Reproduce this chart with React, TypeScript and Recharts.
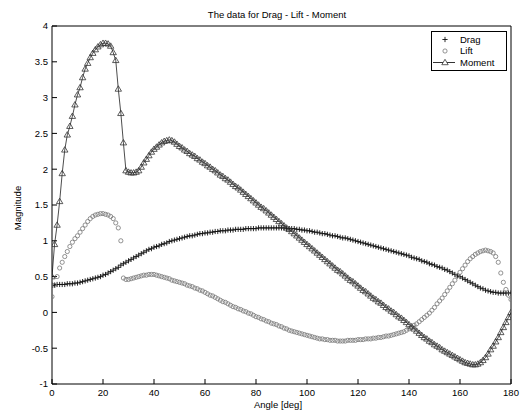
import { LineChart, Line, XAxis, YAxis, Legend } from 'recharts';

// sample angles, one per degree
const ANGLES: number[] = Array.from({ length: 181 }, (_, i) => i);

const DRAG = [
  0.38, 0.38, 0.39, 0.39, 0.39, 0.39, 0.4, 0.4, 0.4, 0.41,
  0.41, 0.42, 0.43, 0.44, 0.45, 0.46, 0.47, 0.48, 0.49, 0.5,
  0.52, 0.53, 0.55, 0.57, 0.59, 0.61, 0.63, 0.66, 0.68, 0.7,
  0.72, 0.74, 0.76, 0.78, 0.8, 0.82, 0.84, 0.86, 0.88, 0.89,
  0.91, 0.92, 0.93, 0.95, 0.96, 0.97, 0.99, 1.0, 1.01, 1.02,
  1.03, 1.04, 1.05, 1.06, 1.07, 1.07, 1.08, 1.09, 1.1, 1.1,
  1.11, 1.11, 1.12, 1.12, 1.13, 1.13, 1.14, 1.14, 1.14, 1.15,
  1.15, 1.15, 1.16, 1.16, 1.16, 1.16, 1.17, 1.17, 1.17, 1.17,
  1.17, 1.18, 1.18, 1.18, 1.18, 1.18, 1.18, 1.18, 1.18, 1.18,
  1.18, 1.18, 1.17, 1.17, 1.17, 1.17, 1.16, 1.16, 1.15, 1.15,
  1.14, 1.14, 1.13, 1.12, 1.12, 1.11, 1.1, 1.1, 1.09, 1.08,
  1.07, 1.07, 1.06, 1.05, 1.04, 1.04, 1.03, 1.02, 1.01, 1.0,
  0.99, 0.98, 0.97, 0.96, 0.95, 0.94, 0.93, 0.92, 0.91, 0.9,
  0.89, 0.88, 0.87, 0.86, 0.85, 0.84, 0.83, 0.82, 0.81, 0.8,
  0.79, 0.77, 0.76, 0.75, 0.74, 0.72, 0.71, 0.7, 0.68, 0.67,
  0.66, 0.64, 0.63, 0.62, 0.6, 0.59, 0.57, 0.55, 0.53, 0.51,
  0.5, 0.48, 0.46, 0.44, 0.42, 0.4, 0.38, 0.36, 0.34, 0.33,
  0.31, 0.3, 0.29, 0.28, 0.28, 0.27, 0.27, 0.27, 0.27, 0.27, 0.27,
];

const LIFT = [
  0.22, 0.38, 0.5, 0.62, 0.7, 0.78, 0.85, 0.92, 0.98, 1.03,
  1.07, 1.12, 1.17, 1.22, 1.27, 1.31, 1.34, 1.36, 1.37, 1.38,
  1.38, 1.37, 1.36, 1.34, 1.31, 1.25, 1.18, 1.0, 0.48, 0.46,
  0.46, 0.47, 0.48, 0.49, 0.5, 0.51, 0.52, 0.52, 0.53, 0.53,
  0.53, 0.52, 0.51, 0.5, 0.49, 0.48, 0.47, 0.45, 0.44, 0.43,
  0.42, 0.41, 0.4, 0.38, 0.37, 0.36, 0.34, 0.33, 0.31, 0.3,
  0.28, 0.26, 0.24, 0.23, 0.21, 0.19, 0.17, 0.15, 0.14, 0.12,
  0.1, 0.08, 0.07, 0.05, 0.04, 0.02, 0.01, -0.01, -0.02, -0.04,
  -0.06, -0.07, -0.09, -0.1, -0.12, -0.13, -0.15, -0.16, -0.17, -0.19,
  -0.2, -0.22, -0.23, -0.25, -0.26, -0.27, -0.28, -0.29, -0.3, -0.31,
  -0.32, -0.33, -0.34, -0.35, -0.36, -0.37, -0.37, -0.38, -0.38, -0.39,
  -0.39, -0.39, -0.4, -0.4, -0.4, -0.4, -0.39, -0.39, -0.39, -0.39,
  -0.38, -0.38, -0.38, -0.37, -0.37, -0.37, -0.36, -0.36, -0.35, -0.35,
  -0.34, -0.33, -0.33, -0.32, -0.31, -0.3, -0.29, -0.28, -0.27, -0.25,
  -0.23, -0.21, -0.18, -0.16, -0.13, -0.1, -0.07, -0.04, -0.01, 0.03,
  0.07, 0.12, 0.16, 0.2, 0.25, 0.3, 0.35, 0.4, 0.45, 0.51,
  0.56, 0.61, 0.66, 0.71, 0.75, 0.78, 0.81, 0.83, 0.85, 0.86,
  0.87, 0.86, 0.85, 0.83, 0.78, 0.7, 0.55, 0.42, 0.32, 0.24, 0.18,
];

const MOMENT = [
  0.5, 0.95, 1.22, 1.55, 1.94, 2.27, 2.48, 2.6, 2.74, 2.9,
  3.04, 3.14, 3.28, 3.4, 3.48, 3.56, 3.62, 3.67, 3.71, 3.74,
  3.76, 3.76, 3.75, 3.72, 3.63, 3.52, 3.12, 2.78, 2.37, 1.98,
  1.96, 1.95, 1.95, 1.96, 1.98, 2.03, 2.09, 2.14, 2.19, 2.24,
  2.28, 2.31, 2.34, 2.37, 2.39, 2.4, 2.41, 2.4, 2.38, 2.35,
  2.32, 2.3, 2.27, 2.25, 2.22, 2.2, 2.18, 2.15, 2.13, 2.1,
  2.08, 2.05, 2.03, 2.0, 1.98, 1.95, 1.92, 1.9, 1.87, 1.85,
  1.82, 1.79, 1.76, 1.74, 1.71, 1.68, 1.65, 1.62, 1.59, 1.56,
  1.53, 1.5, 1.47, 1.45, 1.42, 1.39, 1.36, 1.33, 1.3, 1.27,
  1.24, 1.21, 1.18, 1.16, 1.13, 1.1, 1.07, 1.04, 1.01, 0.98,
  0.95, 0.92, 0.89, 0.86, 0.83, 0.8, 0.77, 0.74, 0.71, 0.68,
  0.65, 0.62, 0.59, 0.57, 0.54, 0.51, 0.48, 0.45, 0.43, 0.4,
  0.37, 0.34, 0.31, 0.29, 0.26, 0.23, 0.2, 0.18, 0.15, 0.13,
  0.1, 0.07, 0.05, 0.02, 0.0, -0.03, -0.06, -0.08, -0.11, -0.14,
  -0.17, -0.2, -0.23, -0.26, -0.29, -0.32, -0.35, -0.37, -0.4, -0.42,
  -0.45, -0.47, -0.49, -0.52, -0.54, -0.56, -0.58, -0.6, -0.62, -0.64,
  -0.66, -0.68, -0.7, -0.71, -0.72, -0.73, -0.73, -0.72, -0.7, -0.67,
  -0.63, -0.58, -0.52, -0.47, -0.41, -0.35, -0.28, -0.21, -0.14, -0.07, 0.0,
];

const X_TICKS = [0, 20, 40, 60, 80, 100, 120, 140, 160, 180];
const Y_TICKS = [-1, -0.5, 0, 0.5, 1, 1.5, 2, 2.5, 3, 3.5, 4];

const rows = ANGLES.map((angle, i) => ({
  angle,
  drag: DRAG[i],
  lift: LIFT[i],
  moment: MOMENT[i],
}));

const FONT = '"Liberation Sans", Arial, Helvetica, sans-serif';
const tickStyle = { fontSize: 9.5, fill: '#000', fontFamily: FONT };

const plusPath = (x: number, y: number) =>
  `M${x - 2.6},${y}h5.2M${x},${y - 2.6}v5.2`;
const trianglePath = (x: number, y: number) =>
  `M${x},${y - 3.2}L${x + 3.2},${y + 2.2}L${x - 3.2},${y + 2.2}Z`;

const PlusDot = (props: any) => {
  const { cx, cy, index } = props;
  if (cx == null || cy == null) return null;
  return (
    <path key={`drag-${index}`} d={plusPath(cx, cy)} stroke="#111" strokeWidth={0.9} fill="none" />
  );
};

const CircleDot = (props: any) => {
  const { cx, cy, index } = props;
  if (cx == null || cy == null) return null;
  return (
    <circle key={`lift-${index}`} cx={cx} cy={cy} r={2.1} stroke="#777" strokeWidth={0.8} fill="none" />
  );
};

const TriangleDot = (props: any) => {
  const { cx, cy, index } = props;
  if (cx == null || cy == null) return null;
  return (
    <path key={`moment-${index}`} d={trianglePath(cx, cy)} stroke="#333" strokeWidth={0.8} fill="none" />
  );
};

const LegendBox = () => (
  <svg width={76} height={40} style={{ display: 'block' }}>
    <rect x={0.5} y={0.5} width={75} height={39} fill="#fff" stroke="#000" strokeWidth={1} />
    <path d={plusPath(14, 8.5)} stroke="#111" strokeWidth={0.9} fill="none" />
    <circle cx={14} cy={20} r={2.1} stroke="#777" strokeWidth={0.8} fill="none" />
    <line x1={2} y1={31.5} x2={24} y2={31.5} stroke="#000" strokeWidth={0.8} />
    <path d={trianglePath(14, 31.5)} stroke="#333" strokeWidth={0.8} fill="#fff" />
    <g fontFamily={FONT} fontSize={9.5} fill="#000">
      <text x={29} y={11.8}>Drag</text>
      <text x={29} y={23.4}>Lift</text>
      <text x={29} y={35}>Moment</text>
    </g>
  </svg>
);

export default function App() {
  return (
    <div
      style={{
        position: 'absolute',
        left: 0,
        top: 0,
        width: 525,
        height: 410,
        background: '#fff',
        fontFamily: FONT,
      }}
    >
      <LineChart
        width={525}
        height={410}
        data={rows}
        margin={{ top: 25, right: 13, bottom: 25, left: 51 }}
      >
        <XAxis
          dataKey="angle"
          type="number"
          domain={[0, 180]}
          ticks={X_TICKS}
          height={1}
          tickSize={-5}
          tickMargin={10}
          tick={tickStyle}
          stroke="#000"
          allowDataOverflow
        />
        <XAxis
          xAxisId="top"
          orientation="top"
          dataKey="angle"
          type="number"
          domain={[0, 180]}
          ticks={X_TICKS}
          height={1}
          tickSize={-5}
          tick={false}
          stroke="#000"
          allowDataOverflow
        />
        <YAxis
          type="number"
          domain={[-1, 4]}
          ticks={Y_TICKS}
          width={1}
          tickSize={-5}
          tickMargin={9}
          tick={tickStyle}
          stroke="#000"
          allowDataOverflow
        />
        <YAxis
          yAxisId="right"
          orientation="right"
          type="number"
          domain={[-1, 4]}
          ticks={Y_TICKS}
          width={1}
          tickSize={-5}
          tick={false}
          stroke="#000"
          allowDataOverflow
        />
        <Legend
          content={<LegendBox />}
          layout="vertical"
          align="center"
          verticalAlign="middle"
          wrapperStyle={{ position: 'absolute', top: 31, left: 431, width: 76, height: 40 }}
        />
        <Line
          dataKey="drag"
          name="Drag"
          type="linear"
          stroke="none"
          dot={PlusDot}
          activeDot={false}
          isAnimationActive={false}
        />
        <Line
          dataKey="lift"
          name="Lift"
          type="linear"
          stroke="none"
          dot={CircleDot}
          activeDot={false}
          isAnimationActive={false}
        />
        <Line
          dataKey="moment"
          name="Moment"
          type="linear"
          stroke="#000"
          strokeWidth={0.7}
          dot={TriangleDot}
          activeDot={false}
          isAnimationActive={false}
        />
      </LineChart>

      <div
        style={{
          position: 'absolute',
          left: 177,
          top: 9,
          width: 200,
          textAlign: 'center',
          fontSize: 9.5,
          lineHeight: '12px',
          color: '#000',
        }}
      >
        The data for Drag - Lift - Moment
      </div>
      <div
        style={{
          position: 'absolute',
          left: 228,
          top: 399,
          width: 100,
          textAlign: 'center',
          fontSize: 9.5,
          lineHeight: '12px',
          color: '#000',
        }}
      >
        Angle [deg]
      </div>
      <div
        style={{
          position: 'absolute',
          left: -32,
          top: 202,
          width: 100,
          height: 12,
          textAlign: 'center',
          fontSize: 9.5,
          lineHeight: '12px',
          color: '#000',
          transform: 'rotate(-90deg)',
        }}
      >
        Magnitude
      </div>
    </div>
  );
}
